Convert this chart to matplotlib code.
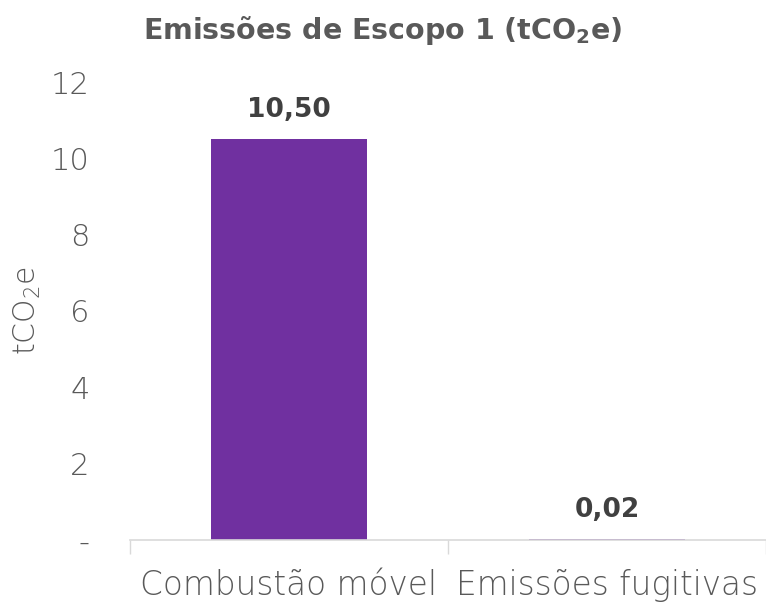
import matplotlib
matplotlib.use("Agg")
import matplotlib.pyplot as plt

categories = ["Combustão móvel", "Emissões fugitivas"]
values = [10.50, 0.02]
value_labels = ["10,50", "0,02"]
yticks = [0, 2, 4, 6, 8, 10, 12]
ytick_labels = ["-", "2", "4", "6", "8", "10", "12"]

plt.rcParams['font.family'] = ['DejaVu Sans']
plt.rcParams['mathtext.default'] = 'regular'

fig = plt.figure(figsize=(7.66, 6.03), dpi=100)
ax = fig.add_axes([130/766, 63/603, 636/766, (540-82)/603])

x = list(range(len(categories)))
ax.bar(x, values, width=0.49, color='#7030A0', zorder=2)

ax.set_xlim(-0.5, len(categories) - 0.5)
ax.set_ylim(0, 12)

for xi, v, lab in zip(x, values, value_labels):
    ax.annotate(lab, (xi, v), xytext=(0, 21), textcoords='offset points',
                ha='center', va='center', fontsize=19, fontweight='bold',
                color='#404040')

ax.set_yticks(yticks)
ax.set_yticklabels(ytick_labels)
ax.tick_params(axis='y', length=0, pad=29, labelsize=22, labelcolor='#595959')
for t in ax.get_yticklabels():
    t.set_fontweight('light')

ax.set_xticks(x)
ax.set_xticklabels(categories)
ax.tick_params(axis='x', which='major', length=0, pad=21, labelsize=23.5, labelcolor='#595959')
for t in ax.get_xticklabels():
    t.set_fontweight('light')
ax.set_xticks([-0.5, 0.5, 1.5], minor=True)
ax.tick_params(axis='x', which='minor', length=10, width=1, color='#D9D9D9')

for s in ['top', 'right', 'left']:
    ax.spines[s].set_visible(False)
ax.spines['bottom'].set_color('#D9D9D9')
ax.spines['bottom'].set_linewidth(1.2)

ax.set_ylabel('tCO$_2$e', fontsize=21.5, color='#595959', fontweight='light', labelpad=6)

fig.text(0.5, 0.95, 'Emissões de Escopo 1 (tCO$_2$e)', ha='center', va='center',
         fontsize=20.5, fontweight='bold', color='#595959')

fig.savefig('out.png', dpi=100)
